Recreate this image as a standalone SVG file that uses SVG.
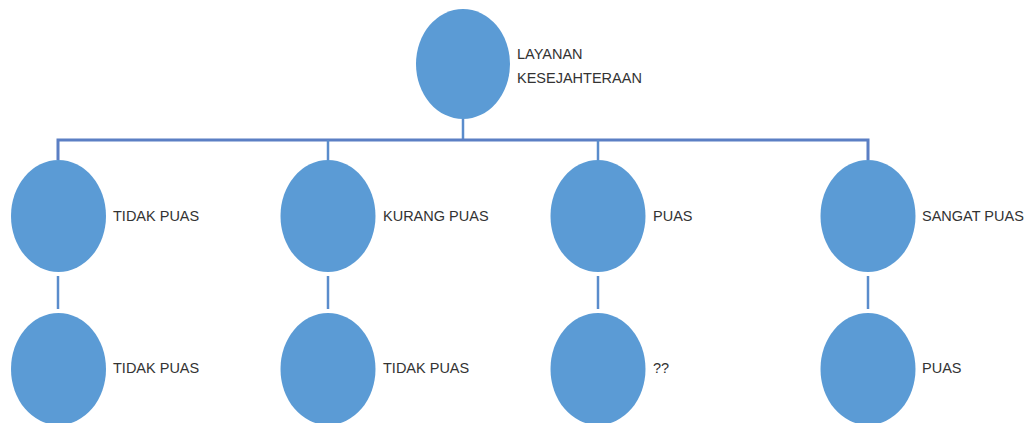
<svg xmlns="http://www.w3.org/2000/svg" width="1026" height="423" viewBox="0 0 1026 423">
<style>
.n{fill:#5b9bd5;}
.t{font-family:"Liberation Sans",Arial,sans-serif;font-size:14.5px;fill:#333333;}
.c{stroke:#5a8ccc;stroke-width:2.5;fill:none;}
.h{stroke:#5b7fc4;stroke-width:3;fill:none;}
</style>
<rect width="1026" height="423" fill="#ffffff"/>
<g id="connectors">
<line class="c" x1="463" y1="119" x2="463" y2="140"/>
<polyline class="h" points="58,160 58,140 868,140 868,160"/>
<line class="c" x1="328" y1="140" x2="328" y2="160"/>
<line class="c" x1="598" y1="140" x2="598" y2="160"/>
<line class="c" x1="58" y1="276" x2="58" y2="309"/>
<line class="c" x1="328" y1="276" x2="328" y2="309"/>
<line class="c" x1="598" y1="276" x2="598" y2="309"/>
<line class="c" x1="868" y1="276" x2="868" y2="309"/>
</g>
<g id="root"><ellipse class="n" cx="463" cy="64" rx="47" ry="55"/><text class="t" x="517" y="59">LAYANAN</text><text class="t" x="517" y="83">KESEJAHTERAAN</text></g>
<g id="n1"><ellipse class="n" cx="58.5" cy="216" rx="47.5" ry="56"/><text class="t" x="113" y="221">TIDAK PUAS</text></g>
<g id="n2"><ellipse class="n" cx="328" cy="216" rx="47.5" ry="56"/><text class="t" x="383" y="221">KURANG PUAS</text></g>
<g id="n3"><ellipse class="n" cx="598" cy="216" rx="47.5" ry="56"/><text class="t" x="653" y="221">PUAS</text></g>
<g id="n4"><ellipse class="n" cx="868" cy="216" rx="47.5" ry="56"/><text class="t" x="922" y="221">SANGAT PUAS</text></g>
<g id="n5"><ellipse class="n" cx="58.5" cy="369" rx="47.5" ry="56"/><text class="t" x="113" y="373">TIDAK PUAS</text></g>
<g id="n6"><ellipse class="n" cx="328" cy="369" rx="47.5" ry="56"/><text class="t" x="383" y="373">TIDAK PUAS</text></g>
<g id="n7"><ellipse class="n" cx="598" cy="369" rx="47.5" ry="56"/><text class="t" x="653" y="373">??</text></g>
<g id="n8"><ellipse class="n" cx="868" cy="369" rx="47.5" ry="56"/><text class="t" x="922" y="373">PUAS</text></g>
</svg>
